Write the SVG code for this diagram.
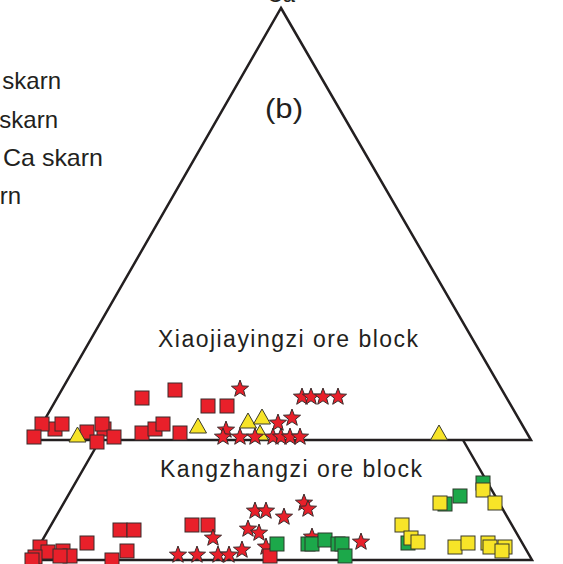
<svg xmlns="http://www.w3.org/2000/svg" xmlns:xlink="http://www.w3.org/1999/xlink" width="563" height="564" viewBox="0 0 563 564">
<style>
.t{font-family:"Liberation Sans",Arial,sans-serif;fill:#231f20}
.frame{fill:none;stroke:#231f20;stroke-width:2.5;stroke-linejoin:miter}
.r{fill:#e8202a;stroke:#3a2a2a;stroke-width:1}
.g{fill:#1ca84a;stroke:#2a3a2a;stroke-width:1}
.y{fill:#f7e428;stroke:#3a3a2a;stroke-width:1}
</style>
<defs>
<rect id="sq" x="0" y="0" width="14" height="14"/>
<path id="tri" d="M0,-8 L8.5,7 L-8.5,7 Z"/>
<path id="st" d="M0,-9 L2.23,-3.07 L8.56,-2.78 L3.61,1.17 L5.29,7.28 L0,3.8 L-5.29,7.28 L-3.61,1.17 L-8.56,-2.78 L-2.23,-3.07Z"/>
</defs>
<g id="legend-fragment">
<text class="t" x="61" y="89" font-size="24" text-anchor="end">skarn</text>
<text class="t" x="58" y="128" font-size="24" text-anchor="end">skarn</text>
<text class="t" x="3" y="166" font-size="24" textLength="100" lengthAdjust="spacingAndGlyphs">Ca skarn</text>
<text class="t" x="21" y="204" font-size="24" text-anchor="end">rn</text>
</g>
<g id="connectors">
<path class="frame" d="M281,8 L531,440 L33,440 Z"/>
<path class="frame" d="M100,440 L31,560 L532,560 L463,440"/>
</g>
<g id="labels">
<text class="t" x="281" y="1.5" font-size="22" text-anchor="middle">Ca</text>
<text class="t" x="265" y="118" font-size="28" textLength="38" lengthAdjust="spacingAndGlyphs">(b)</text>
<text class="t" x="158" y="347" font-size="23" textLength="260" lengthAdjust="spacing">Xiaojiayingzi ore block</text>
<text class="t" x="160" y="477" font-size="23" textLength="262" lengthAdjust="spacing">Kangzhangzi ore block</text>
</g>
<g id="upper-block">
<use href="#sq" class="r" x="135" y="391"/>
<use href="#sq" class="r" x="168" y="383"/>
<use href="#sq" class="r" x="48" y="422"/>
<use href="#sq" class="r" x="35" y="417"/>
<use href="#sq" class="r" x="55" y="417"/>
<use href="#sq" class="r" x="27" y="430"/>
<use href="#sq" class="r" x="80" y="425"/>
<use href="#sq" class="r" x="97" y="422"/>
<use href="#sq" class="r" x="95" y="417"/>
<use href="#sq" class="r" x="107" y="430"/>
<use href="#sq" class="r" x="90" y="435"/>
<use href="#sq" class="r" x="135" y="426"/>
<use href="#sq" class="r" x="148" y="422"/>
<use href="#sq" class="r" x="156" y="417"/>
<use href="#sq" class="r" x="173" y="426"/>
<use href="#sq" class="r" x="201" y="399"/>
<use href="#sq" class="r" x="220" y="399"/>
<use href="#tri" class="y" x="77.5" y="435"/>
<use href="#tri" class="y" x="198" y="426"/>
<use href="#st" class="r" x="226" y="430"/>
<use href="#tri" class="y" x="248" y="421"/>
<use href="#tri" class="y" x="262" y="417"/>
<use href="#tri" class="y" x="439" y="433"/>
<use href="#st" class="r" x="240" y="389"/>
<use href="#st" class="r" x="302" y="397"/>
<use href="#st" class="r" x="311" y="397"/>
<use href="#st" class="r" x="323" y="397"/>
<use href="#st" class="r" x="338" y="397"/>
<use href="#st" class="r" x="292" y="418"/>
<use href="#st" class="r" x="278" y="423"/>
<use href="#tri" class="y" x="260" y="433"/>
<use href="#st" class="r" x="223" y="437"/>
<use href="#st" class="r" x="240" y="437"/>
<use href="#st" class="r" x="255" y="437"/>
<use href="#st" class="r" x="273" y="437"/>
<use href="#st" class="r" x="281" y="437"/>
<use href="#st" class="r" x="290" y="437"/>
<use href="#st" class="r" x="300" y="437"/>
</g>
<g id="lower-block">
<use href="#sq" class="r" x="113" y="523"/>
<use href="#sq" class="r" x="127" y="523"/>
<use href="#sq" class="r" x="80" y="536"/>
<use href="#sq" class="r" x="120" y="544"/>
<use href="#sq" class="r" x="105" y="553"/>
<use href="#sq" class="r" x="185" y="518"/>
<use href="#sq" class="r" x="201" y="518"/>
<use href="#sq" class="r" x="33" y="540"/>
<use href="#sq" class="r" x="41" y="545"/>
<use href="#sq" class="r" x="28" y="550"/>
<use href="#sq" class="r" x="25" y="553"/>
<use href="#sq" class="r" x="56" y="544"/>
<use href="#sq" class="r" x="63" y="549"/>
<use href="#sq" class="r" x="53" y="549"/>
<use href="#st" class="r" x="255" y="511"/>
<use href="#st" class="r" x="266" y="511"/>
<use href="#st" class="r" x="284" y="517"/>
<use href="#st" class="r" x="304" y="503"/>
<use href="#st" class="r" x="308" y="509"/>
<use href="#st" class="r" x="248" y="529"/>
<use href="#st" class="r" x="259" y="533"/>
<use href="#st" class="r" x="213" y="538"/>
<use href="#st" class="r" x="242" y="550"/>
<use href="#st" class="r" x="178" y="555"/>
<use href="#st" class="r" x="197" y="555"/>
<use href="#st" class="r" x="218" y="555"/>
<use href="#st" class="r" x="229" y="555"/>
<use href="#st" class="r" x="266" y="547"/>
<use href="#st" class="r" x="312" y="537"/>
<use href="#st" class="r" x="361" y="542"/>
<use href="#sq" class="r" x="263" y="549"/>
<use href="#sq" class="g" x="270" y="537"/>
<use href="#sq" class="g" x="301" y="537"/>
<use href="#sq" class="g" x="305" y="537"/>
<use href="#sq" class="g" x="318" y="533"/>
<use href="#sq" class="g" x="331" y="537"/>
<use href="#sq" class="g" x="335" y="537"/>
<use href="#sq" class="g" x="338" y="549"/>
<use href="#sq" class="g" x="476" y="476"/>
<use href="#sq" class="g" x="453" y="489"/>
<use href="#sq" class="g" x="438" y="497"/>
<use href="#sq" class="g" x="401" y="536"/>
<use href="#sq" class="y" x="476" y="483"/>
<use href="#sq" class="y" x="488" y="496"/>
<use href="#sq" class="y" x="433" y="496"/>
<use href="#sq" class="y" x="395" y="518"/>
<use href="#sq" class="y" x="404" y="531"/>
<use href="#sq" class="y" x="411" y="535"/>
<use href="#sq" class="y" x="448" y="540"/>
<use href="#sq" class="y" x="461" y="536"/>
<use href="#sq" class="y" x="481" y="536"/>
<use href="#sq" class="y" x="483" y="540"/>
<use href="#sq" class="y" x="498" y="540"/>
<use href="#sq" class="y" x="495" y="544"/>
</g>
</svg>
